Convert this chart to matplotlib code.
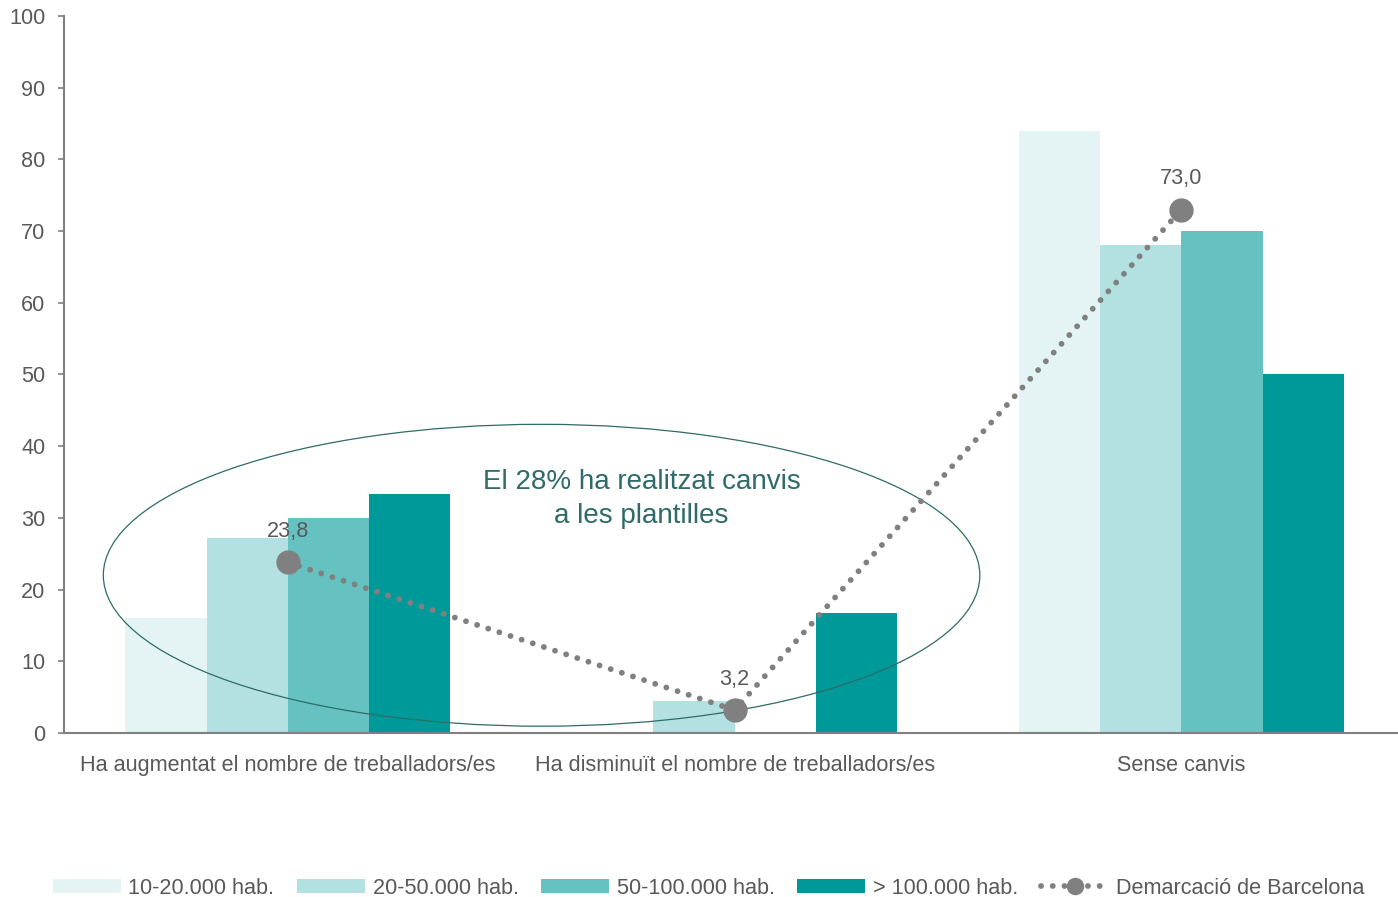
import numpy as np
import matplotlib
matplotlib.use("Agg")
import matplotlib.pyplot as plt
from matplotlib.patches import Ellipse

plt.rcParams['font.family'] = ['Liberation Sans', 'DejaVu Sans']

categories = ["Ha augmentat el nombre de treballadors/es",
              "Ha disminuït el nombre de treballadors/es",
              "Sense canvis"]
series_names = ["10-20.000 hab.", "20-50.000 hab.", "50-100.000 hab.", "> 100.000 hab."]
series_values = [
    [16.0, 0.0, 84.0],
    [27.2, 4.4, 68.1],
    [30.0, 0.0, 70.0],
    [33.3, 16.7, 50.0],
]
barcelona_name = "Demarcació de Barcelona"
barcelona_values = [23.8, 3.2, 73.0]
barcelona_labels = ["23,8", "3,2", "73,0"]
note_text = "El 28% ha realitzat canvis\na les plantilles"

colors = ["#e4f4f4", "#b3e0e0", "#66c2c0", "#009999"]
grey = "#808080"
text_grey = "#595959"
teal_dark = "#2f6b68"
fs = 15.6

fig = plt.figure(figsize=(13.98, 8.97), dpi=100)
ax = fig.add_axes([64 / 1398, 164 / 897, 1 - 64 / 1398, (733 - 16) / 897])

x = np.arange(len(categories))
w = 0.182
for i, (name, vals) in enumerate(zip(series_names, series_values)):
    ax.bar(x + (i - 1.5) * w, vals, width=w, color=colors[i], label=name, zorder=2)

# highlight ellipse
ell = Ellipse((0.568, 22.0), 1.962, 42.1, fill=False, edgecolor=teal_dark, lw=0.9, zorder=3)
ax.add_patch(ell)
ax.text(0.792, 32.6, note_text, ha='center', va='center', fontsize=20,
        color=teal_dark, linespacing=1.4, zorder=4)

line, = ax.plot(x, barcelona_values, color=grey, lw=4.2, dashes=(0.01, 2.0),
                dash_capstyle='round', marker='o', markersize=16.5,
                markerfacecolor=grey, markeredgecolor=grey, label=barcelona_name, zorder=5)
for xi, v, lab in zip(x, barcelona_values, barcelona_labels):
    ax.annotate(lab, (xi, v), xytext=(0, 14.5), textcoords='offset points',
                ha='center', va='bottom', fontsize=fs, color=text_grey, zorder=6)

ax.set_xlim(-0.501, 2.485)
ax.set_ylim(0, 100)
ax.set_yticks(np.arange(0, 101, 10))
ax.set_xticks(x)
ax.set_xticklabels(categories)
ax.tick_params(axis='x', length=0, pad=15.5, labelsize=fs, labelcolor=text_grey)
ax.tick_params(axis='y', length=4.5, width=1.2, color=grey, pad=9,
               labelsize=fs, labelcolor=text_grey)
for s in ['top', 'right']:
    ax.spines[s].set_visible(False)
for s in ['left', 'bottom']:
    ax.spines[s].set_color(grey)
    ax.spines[s].set_linewidth(1.5)

handles, labels = ax.get_legend_handles_labels()
order = [1, 2, 3, 4, 0]
fig.legend([handles[k] for k in order], [labels[k] for k in order],
           loc='center', bbox_to_anchor=(0.507, 0.010), ncol=5, frameon=False,
           fontsize=fs, labelcolor=text_grey, handlelength=3.13, handleheight=0.6,
           handletextpad=0.35, columnspacing=1.05, numpoints=1, markerscale=0.7)

fig.savefig("out.png", dpi=100)
